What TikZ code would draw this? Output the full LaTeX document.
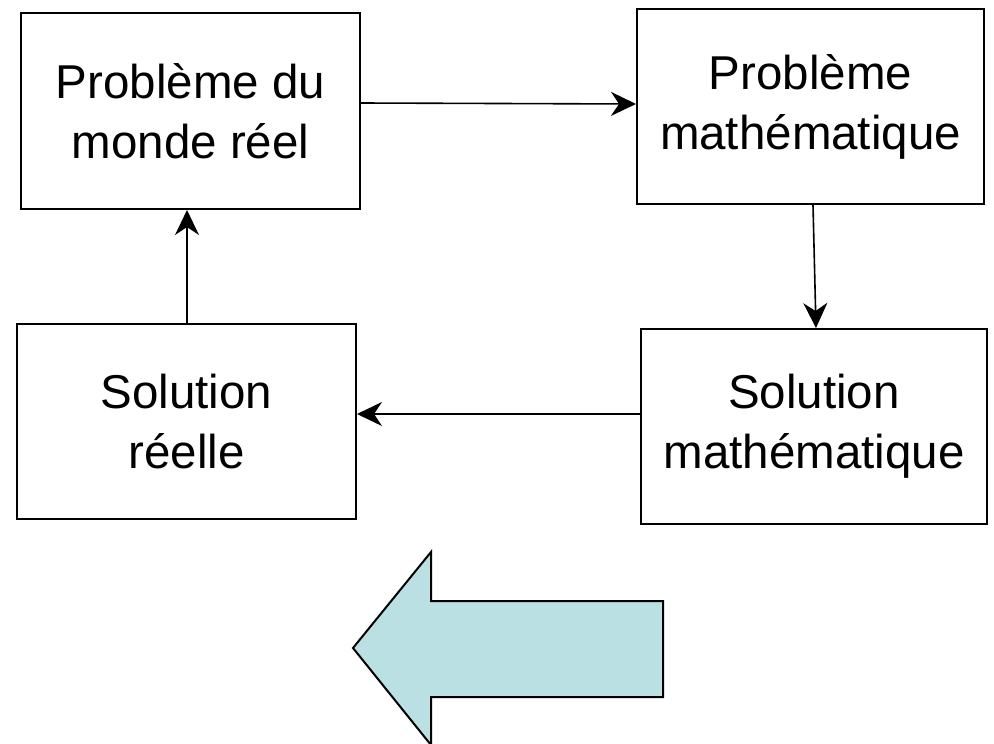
\documentclass[tikz,border=0pt]{standalone}
\usepackage{fontspec}
\setmainfont{Liberation Sans}
\usetikzlibrary{arrows.meta}
\begin{document}
\begin{tikzpicture}[x=1pt,y=-1pt,
  box/.style={draw=black,line width=2pt,inner sep=0pt,align=center,
    font=\fontsize{47.5}{60}\selectfont},
  conn/.style={line width=1.6pt,-{Stealth[length=25pt,width=24pt,inset=8pt]}},
  bigarrow/.style={draw=black,line width=2pt,fill=bigblue,line join=miter}]
\definecolor{bigblue}{HTML}{BBE0E3}
\useasboundingbox (0,0) rectangle (994,744);
\node[box,minimum width=339pt,minimum height=196pt] (A) at (190.5,111) {Problème du\\monde réel};
\node[box,minimum width=347pt,minimum height=195pt] (B) at (810.5,106.5) {Problème\\mathématique};
\node[box,minimum width=339pt,minimum height=195pt] (C) at (186.5,421.5) {Solution\\réelle};
\node[box,minimum width=346pt,minimum height=195pt] (D) at (814,426.5) {Solution\\mathématique};
\draw[conn] ([yshift=8pt]A.east) -- ([yshift=2.5pt]B.west);
\draw[conn] ([xshift=2.5pt]B.south) -- ([xshift=2pt]D.north);
\draw[conn] ([yshift=12.5pt]D.west) -- ([yshift=7.5pt]C.east);
\draw[conn] ([xshift=0.5pt]C.north) -- ([xshift=-3.5pt]A.south);
\draw[bigarrow] (353,648) -- (431,552) -- (431,601) -- (663,601) -- (663,697) -- (431,697) -- (431,745) -- cycle;
\end{tikzpicture}
\end{document}
